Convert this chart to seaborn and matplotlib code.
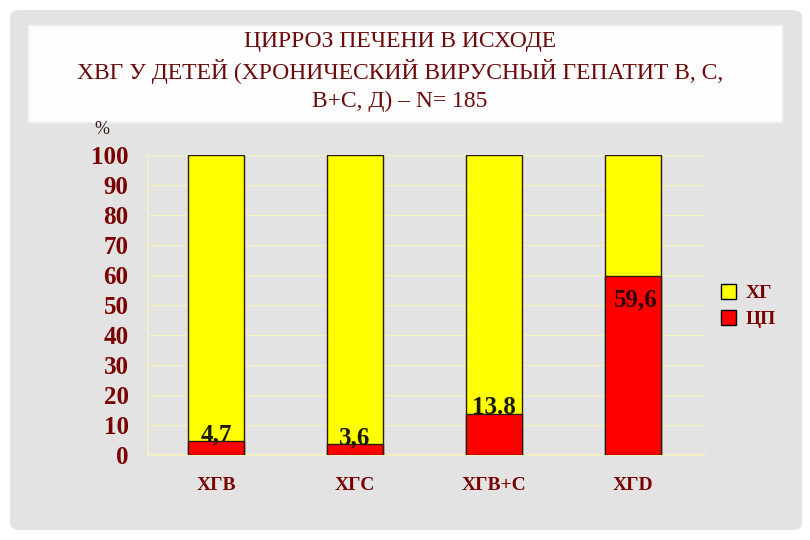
import matplotlib
matplotlib.use("Agg")
import matplotlib.pyplot as plt
import seaborn as sns
import pandas as pd
from matplotlib.patches import FancyBboxPatch, Rectangle, Patch

categories = ["ХГВ", "ХГС", "ХГВ+С", "ХГD"]
cp_values = [4.7, 3.6, 13.8, 59.6]
total_values = [100, 100, 100, 100]
value_labels = ["4,7", "3,6", "13.8", "59,6"]
yticks = [0, 10, 20, 30, 40, 50, 60, 70, 80, 90, 100]
legend_labels = ["ХГ", "ЦП"]
title_lines = ["ЦИРРОЗ ПЕЧЕНИ В ИСХОДЕ",
               "ХВГ У ДЕТЕЙ (ХРОНИЧЕСКИЙ ВИРУСНЫЙ ГЕПАТИТ В, С,",
               "В+С, Д) – N= 185"]

sns.set_theme(style="white")
plt.rcParams['font.family'] = ['Liberation Serif', 'DejaVu Serif']

DARKRED = "#7a0000"
YELLOW = "#ffff00"
RED = "#ff0000"

fig = plt.figure(figsize=(8.1, 5.4), dpi=100, facecolor="white")
# gray rounded slide background
bg = FancyBboxPatch((10/810, 1 - 530/540), 792/810, 520/540,
                    boxstyle="round,pad=0,rounding_size=0.012",
                    transform=fig.transFigure, facecolor="#e3e3e3",
                    edgecolor="none", zorder=-3)
fig.patches.append(bg)
# white title box
tb = Rectangle((28/810, 1 - 122/540), 754/810, 97/540,
               transform=fig.transFigure, facecolor="#fdfdfd",
               edgecolor="#f0f0f0", zorder=-2)
fig.patches.append(tb)

ys = [42, 72, 101]
for line, y in zip(title_lines, ys):
    fig.text(400/810, 1 - y/540, line, ha="center", va="center",
             fontsize=17, color="#6a0a0a")

fig.text(102/810, 1 - 129/540, "%", ha="center", va="center",
         fontsize=13, color="#3a1a1a")

ax = fig.add_axes([148/810, 1 - 455/540, 557/810, 300/540])
ax.set_facecolor("none")

df = pd.DataFrame({"cat": categories, "total": total_values, "cp": cp_values})
sns.barplot(data=df, x="cat", y="total", color=YELLOW, saturation=1,
            width=0.4, edgecolor="#2a1a08", linewidth=1.0, ax=ax, zorder=3)
sns.barplot(data=df, x="cat", y="cp", color=RED, saturation=1,
            width=0.4, edgecolor="#2a1a08", linewidth=1.0, ax=ax, zorder=4)

ax.set_xlim(-0.49, 3.52)
ax.set_ylim(0, 100)
ax.set_yticks(yticks)
ax.set_yticklabels([str(t) for t in yticks], fontsize=18, fontweight="bold",
                   color=DARKRED)
ax.set_xticks(range(len(categories)))
ax.set_xticklabels(categories, fontsize=14, fontweight="bold", color=DARKRED)
ax.tick_params(axis="x", length=0, pad=16)
ax.tick_params(axis="y", length=0, pad=14)
ax.set_xlabel("")
ax.set_ylabel("")
ax.grid(axis="y", color="#f4f2c0", linewidth=1.0, zorder=1)
ax.set_axisbelow(True)
for s in ["top", "right"]:
    ax.spines[s].set_visible(False)
ax.spines["left"].set_color("#f4f2c0")
ax.spines["bottom"].set_color("#f4f2c0")
ax.axvline(3.52, color="#f4f2c0", linewidth=1.0, zorder=1)

for i, (v, lab) in enumerate(zip(cp_values, value_labels)):
    if v > 30:
        ax.text(i + 0.02, v - 4, lab, ha="center", va="top", fontsize=18,
                fontweight="bold", color="#330000", zorder=6)
    else:
        ax.text(i, v - 1.8, lab, ha="center", va="bottom", fontsize=18,
                fontweight="bold", color="#1a1a00", zorder=6)

handles = [Patch(facecolor=YELLOW, edgecolor="black", linewidth=1),
           Patch(facecolor=RED, edgecolor="black", linewidth=1)]
leg = fig.legend(handles, legend_labels, loc="center left",
                 bbox_to_anchor=(703/810, 1 - 306/540), frameon=False,
                 handlelength=0.8, handleheight=0.8, handletextpad=0.5,
                 labelspacing=0.4, prop={"family": "Liberation Serif",
                                         "weight": "bold", "size": 14})
for t in leg.get_texts():
    t.set_color(DARKRED)

fig.savefig("out.png", dpi=100, facecolor="white")
